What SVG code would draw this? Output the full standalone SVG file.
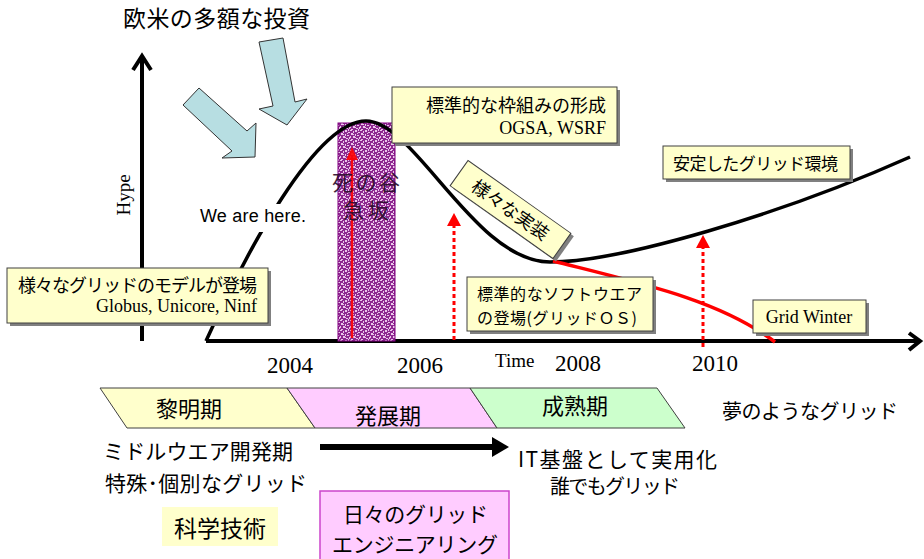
<svg xmlns="http://www.w3.org/2000/svg" width="924" height="559" viewBox="0 0 924 559">
<style>
.jp{font-family:"Noto Sans CJK JP","Noto Sans",sans-serif;fill:#000}
.tm{font-family:"Liberation Serif",serif;fill:#000}
.ar{font-family:"Liberation Sans",sans-serif;fill:#000}
.box{fill:#ffffcc;stroke:#404040;stroke-width:1}
.sh{fill:#808080}
.blue{fill:#b7dee2;stroke:#333;stroke-width:1}
.axis{fill:none;stroke:#000;stroke-width:4}
.dot{stroke:#ff0000;stroke-width:3;stroke-dasharray:4 3;fill:none}
.sp{fill:#ecc8ec}
</style>
<defs>
<pattern id="speck" width="10" height="10" patternUnits="userSpaceOnUse">
<rect width="10" height="10" fill="#8e2890"/>
<rect class="sp" x="0" y="0" width="2" height="1"/>
<rect class="sp" x="3" y="1" width="1" height="2"/>
<rect class="sp" x="5" y="0" width="2" height="2"/>
<rect class="sp" x="8" y="2" width="2" height="1"/>
<rect class="sp" x="1" y="3" width="2" height="2"/>
<rect class="sp" x="5" y="4" width="1" height="2"/>
<rect class="sp" x="7" y="5" width="2" height="1"/>
<rect class="sp" x="0" y="6" width="1" height="2"/>
<rect class="sp" x="3" y="6" width="2" height="2"/>
<rect class="sp" x="6" y="8" width="2" height="1"/>
<rect class="sp" x="9" y="7" width="1" height="2"/>
<rect class="sp" x="1" y="9" width="2" height="1"/>
<rect class="sp" x="8" y="0" width="1" height="1"/>
<rect class="sp" x="3" y="4" width="1" height="1"/>
<rect class="sp" x="7" y="3" width="1" height="1"/>
<rect class="sp" x="5" y="7" width="1" height="1"/>
<rect class="sp" x="8" y="9" width="1" height="1"/>
</pattern>
</defs>

<g id="title"><text class="jp" x="123" y="27" font-size="23" textLength="187">欧米の多額な投資</text></g>

<g id="investment-arrows">
<polygon class="blue" points="183,105 199,88 247,131 256,123 255,157 222,158 232,151"/>
<polygon class="blue" points="259,42 283,38 295,102 307,99 287,125 259,109 273,106"/>
</g>

<g id="axes">
<line class="axis" x1="142" y1="341" x2="142" y2="56"/>
<polyline class="axis" points="133,70 142,56 151,70"/>
<line class="axis" x1="206" y1="341" x2="920" y2="341"/>
<polyline class="axis" points="909,333 920,341 909,350"/>
<text class="tm" font-size="19" transform="translate(130,195) rotate(-90)" text-anchor="middle">Hype</text>
<text class="tm" x="267" y="373" font-size="23">2004</text>
<text class="tm" x="397" y="373" font-size="23">2006</text>
<text class="tm" x="495" y="367" font-size="19">Time</text>
<text class="tm" x="555" y="371" font-size="23">2008</text>
<text class="tm" x="692" y="371" font-size="23">2010</text>
</g>

<g id="valley">
<rect x="338" y="123" width="57" height="218" fill="url(#speck)" stroke="#800080" stroke-width="1"/>
</g>

<g id="connectors">
<path d="M206,341 C245,255 315,121 366,121 C415,121 475,262 550,262 C620,262 780,215 910,157" fill="none" stroke="#000" stroke-width="3.5"/>
<path d="M553,261 C640,283 720,300 775,342" fill="none" stroke="#ff0000" stroke-width="3.5"/>
<line x1="352" y1="338" x2="352" y2="158" stroke="#ff0000" stroke-width="2.5" opacity="0.9"/>
<polygon points="352,147 346,160 358,160" fill="#ff0000" opacity="0.9"/>
<line class="dot" x1="454" y1="340" x2="454" y2="225"/>
<polygon points="454,213 447,226 461,226" fill="#ff0000"/>
<line class="dot" x1="703" y1="347" x2="703" y2="247"/>
<polygon points="703,235 696,248 710,248" fill="#ff0000"/>
<line x1="320" y1="447" x2="494" y2="447" stroke="#000" stroke-width="6"/>
<polygon points="492,437 509,447 492,457" fill="#000"/>
</g>

<g id="valley-label">
<text class="jp" x="332" y="190" font-size="21" textLength="68" style="fill:#2a0a2a" opacity="0.9">死の谷</text>
<text class="jp" x="343" y="218" font-size="21" textLength="46" style="fill:#2a0a2a" opacity="0.9">急坂</text>
</g>

<g id="we-are-here">
<rect x="196" y="204" width="114" height="28" fill="#fff"/>
<text class="ar" x="200" y="222" font-size="18" textLength="106">We are here.</text>
</g>

<g id="box-models">
<rect class="sh" x="10" y="271" width="261" height="55"/>
<rect class="box" x="7" y="268" width="261" height="55"/>
<text class="jp" x="18" y="292" font-size="18" textLength="239">様々なグリッドのモデルが登場</text>
<text class="tm" x="257" y="312" font-size="18" text-anchor="end">Globus, Unicore, Ninf</text>
</g>

<g id="box-framework">
<rect class="sh" x="395" y="90" width="225" height="56"/>
<rect class="box" x="392" y="87" width="225" height="56"/>
<text class="jp" x="606" y="112" font-size="18" text-anchor="end">標準的な枠組みの形成</text>
<text class="tm" x="606" y="134" font-size="18" text-anchor="end">OGSA, WSRF</text>
</g>

<g id="box-impl">
<g transform="translate(513.5,212.5) rotate(35.3)">
<rect class="sh" x="-63" y="-15.5" width="126" height="31"/>
</g>
<g transform="translate(510.5,209.5) rotate(35.3)">
<rect class="box" x="-63" y="-15.5" width="126" height="31"/>
<text class="jp" x="0" y="7" font-size="18" text-anchor="middle">様々な実装</text>
</g>
</g>

<g id="box-stable">
<rect class="sh" x="666" y="149" width="187" height="33"/>
<rect class="box" x="663" y="146" width="187" height="33"/>
<text class="jp" x="673" y="170" font-size="17" textLength="165">安定したグリッド環境</text>
</g>

<g id="box-software">
<rect class="sh" x="470" y="280" width="186" height="54"/>
<rect class="box" x="467" y="277" width="186" height="54"/>
<text class="jp" x="477" y="300" font-size="16" textLength="165">標準的なソフトウエア</text>
<text class="jp" x="477" y="324" font-size="16" textLength="160">の登場(グリッドＯＳ)</text>
</g>

<g id="box-winter">
<rect class="sh" x="756" y="303" width="113" height="33"/>
<rect class="box" x="753" y="300" width="113" height="33"/>
<text class="tm" x="809" y="323" font-size="18" text-anchor="middle">Grid Winter</text>
</g>

<g id="phases">
<polygon points="100,388 287,388 315,428 127,428" fill="#ffffcc" stroke="#404040" stroke-width="1"/>
<polygon points="287,388 470,388 497,428 315,428" fill="#ffccff" stroke="#404040" stroke-width="1"/>
<polygon points="470,388 657,388 685,428 497,428" fill="#ccffcc" stroke="#404040" stroke-width="1"/>
<text class="jp" x="189" y="417" font-size="22" text-anchor="middle">黎明期</text>
<text class="jp" x="388" y="424" font-size="22" text-anchor="middle">発展期</text>
<text class="jp" x="575" y="414" font-size="22" text-anchor="middle">成熟期</text>
<text class="jp" x="722" y="419" font-size="20" textLength="176">夢のようなグリッド</text>
</g>

<g id="labels-left">
<text class="jp" x="103" y="459" font-size="21" textLength="190">ミドルウエア開発期</text>
<text class="jp" x="105" y="491" font-size="21" textLength="202">特殊･個別なグリッド</text>
</g>

<g id="labels-right">
<text class="jp" x="518" y="467" font-size="21" textLength="199">IT基盤として実用化</text>
<text class="jp" x="550" y="494" font-size="20" textLength="130">誰でもグリッド</text>
</g>

<g id="science">
<rect x="162" y="507" width="116" height="39" fill="#ffffcc"/>
<text class="jp" x="220" y="537" font-size="23" text-anchor="middle">科学技術</text>
</g>

<g id="engineering">
<rect x="320" y="491" width="189" height="75" fill="#ffccff" stroke="#cc44cc" stroke-width="1.5"/>
<text class="jp" x="343" y="522" font-size="21" textLength="145">日々のグリッド</text>
<text class="jp" x="332" y="552" font-size="21" textLength="166">エンジニアリング</text>
</g>
</svg>
